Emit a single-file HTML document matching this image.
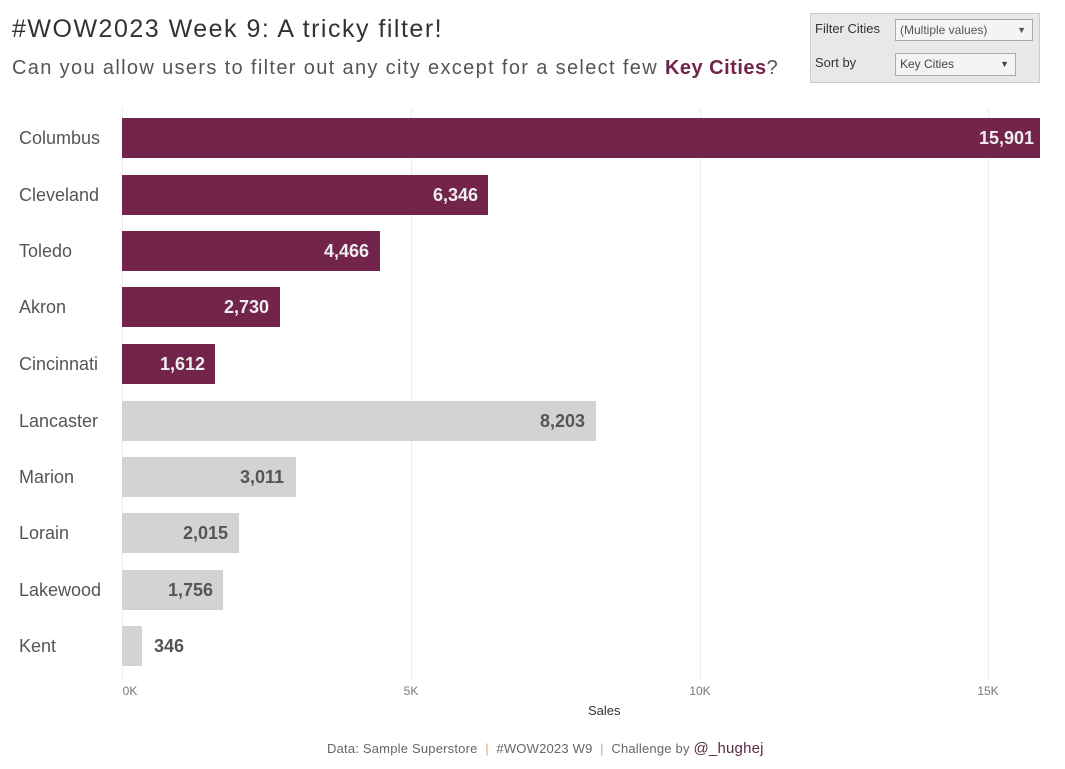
<!DOCTYPE html><html><head><style>
body{margin:0;width:1065px;height:769px;background:#fff;font-family:"Liberation Sans",sans-serif;position:relative;overflow:hidden}
.a{position:absolute;white-space:nowrap}
.lbl{left:19px;font-size:18px;color:#555;line-height:20px}
.bar{position:absolute;left:122px;height:40px}
.v{position:absolute;font-size:18px;font-weight:bold;line-height:40px}
.g{position:absolute;top:108px;width:1px;height:572px;background:#ececec}
.t{position:absolute;top:684px;font-size:12px;color:#777;transform:translateX(-50%)}
</style></head><body>
<div class="a" style="left:12px;top:15px;font-size:25px;color:#333;letter-spacing:1.5px">#WOW2023 Week 9: A tricky filter!</div>
<div class="a" style="left:12px;top:57px;font-size:20px;color:#555;letter-spacing:1.35px">Can you allow users to filter out any city except for a select few <b style="color:#72244a;letter-spacing:0.5px">Key Cities</b>?</div>
<div class="a" style="left:810px;top:13px;width:228px;height:68px;background:#e8e8e8;border:1px solid #ccc"></div>
<div class="a" style="left:815px;top:21px;font-size:13px;color:#333">Filter Cities</div>
<div class="a" style="left:895px;top:19px;width:136px;height:20px;background:#f4f4f4;border:1px solid #aaa;font-size:12px;color:#555;line-height:20px;text-indent:4px">(Multiple values)<span style="position:absolute;right:6px;font-size:9px">▼</span></div>
<div class="a" style="left:815px;top:55px;font-size:13px;color:#333">Sort by</div>
<div class="a" style="left:895px;top:53px;width:119px;height:21px;background:#f4f4f4;border:1px solid #aaa;font-size:12px;color:#444;line-height:21px;text-indent:4px">Key Cities<span style="position:absolute;right:6px;font-size:9px">▼</span></div>
<div class="g" style="left:122px"></div><div class="g" style="left:411px"></div><div class="g" style="left:700px"></div><div class="g" style="left:988px"></div>
<div class="t" style="left:130px">0K</div><div class="t" style="left:411px">5K</div><div class="t" style="left:700px">10K</div><div class="t" style="left:988px">15K</div>
<div class="a" style="left:588px;top:703px;font-size:13px;color:#333">Sales</div>
<div class="a" style="left:327px;top:740px;font-size:13px;color:#666;letter-spacing:0.2px">Data: Sample Superstore &nbsp;<span style="color:#d9a57a">|</span>&nbsp; #WOW2023 W9 &nbsp;<span style="color:#8cb7d6">|</span>&nbsp; Challenge by <span style="color:#5a2a45;font-size:15px">@_hughej</span></div>

<div class="a lbl" style="top:128px">Columbus</div><div class="bar" style="top:118px;width:918px;background:#72244a"></div><div class="v" style="top:118px;right:31px;color:#eee">15,901</div>
<div class="a lbl" style="top:185px">Cleveland</div><div class="bar" style="top:175px;width:366px;background:#72244a"></div><div class="v" style="top:175px;left:433px;color:#eee">6,346</div>
<div class="a lbl" style="top:241px">Toledo</div><div class="bar" style="top:231px;width:258px;background:#72244a"></div><div class="v" style="top:231px;left:324px;color:#eee">4,466</div>
<div class="a lbl" style="top:297px">Akron</div><div class="bar" style="top:287px;width:158px;background:#72244a"></div><div class="v" style="top:287px;left:224px;color:#eee">2,730</div>
<div class="a lbl" style="top:354px">Cincinnati</div><div class="bar" style="top:344px;width:93px;background:#72244a"></div><div class="v" style="top:344px;left:160px;color:#eee">1,612</div>
<div class="a lbl" style="top:411px">Lancaster</div><div class="bar" style="top:401px;width:474px;background:#d3d3d3"></div><div class="v" style="top:401px;left:540px;color:#555">8,203</div>
<div class="a lbl" style="top:467px">Marion</div><div class="bar" style="top:457px;width:174px;background:#d3d3d3"></div><div class="v" style="top:457px;left:240px;color:#555">3,011</div>
<div class="a lbl" style="top:523px">Lorain</div><div class="bar" style="top:513px;width:117px;background:#d3d3d3"></div><div class="v" style="top:513px;left:183px;color:#555">2,015</div>
<div class="a lbl" style="top:580px">Lakewood</div><div class="bar" style="top:570px;width:101px;background:#d3d3d3"></div><div class="v" style="top:570px;left:168px;color:#555">1,756</div>
<div class="a lbl" style="top:636px">Kent</div><div class="bar" style="top:626px;width:20px;background:#d3d3d3"></div><div class="v" style="top:626px;left:154px;color:#555">346</div>
</body></html>
